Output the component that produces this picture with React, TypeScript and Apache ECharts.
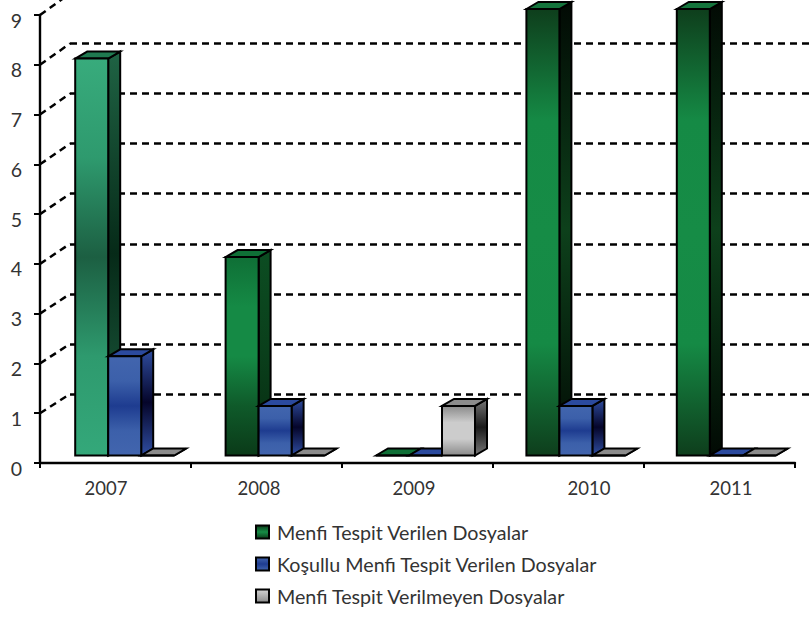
import React, { useEffect, useRef } from "react";
import * as echarts from "echarts";

const categories = ["2007", "2008", "2009", "2010", "2011"];
const menfi = [8, 4, 0, 9, 9];
const kosullu = [2, 1, 0, 1, 0];
const verilmeyen = [0, 0, 1, 0, 0];
const yTicks = [1, 2, 3, 4, 5, 6, 7, 8, 9];
const seriesNames = [
  "Menfi Tespit Verilen Dosyalar",
  "Koşullu Menfi Tespit Verilen Dosyalar",
  "Menfi Tespit Verilmeyen Dosyalar",
];
const labelPositions = [0.437, 1.45, 2.477, 3.636, 4.576];

const grad = (stops: string[]) =>
  new echarts.graphic.LinearGradient(
    0, 0, 0, 1,
    stops.map((color, i) => ({ offset: i / (stops.length - 1), color }))
  );

const greenFront = [
  ["#38AB7C", "#2E9A6E", "#1C5F42", "#2E9A6E", "#34A87A"],
  ["#0F6F36", "#158A45", "#158A45", "#0F5A2A", "#0A3A18"],
  ["#0F6F36", "#158A45", "#158A45", "#0F5A2A", "#0A3A18"],
  ["#0E3E1C", "#158A45", "#168C46", "#158A45", "#0E3E1C"],
  ["#0E3E1C", "#158A45", "#168C46", "#158A45", "#0E3E1C"],
];
const greenSide = [
  ["#1F6344", "#062A18", "#1F6344"],
  ["#0C4D22", "#0A3F1B", "#062A10"],
  ["#0C4D22", "#0A3F1B", "#062A10"],
  ["#020A04", "#0D401B", "#020A04"],
  ["#020A04", "#0D401B", "#020A04"],
];
const greenTop = ["#1F7A50", "#0F6F36", "#0F6F36", "#14743C", "#14743C"];
const blueFront = ["#4265AE", "#3C60AA", "#1E3C90", "#3C60AA", "#4265AE"];
const blueSide = ["#2F4DA0", "#05052A", "#2F4DA0"];
const grayFront = ["#8A8A8A", "#CCCCCC", "#CCCCCC", "#8A8A8A"];
const graySide = ["#777777", "#1A1A1A", "#777777"];

const BAR_W = 33;
const DX = 12;
const DY = 7;

function barRenderer(slot: number, front: (i: number) => any, side: (i: number) => any, top: (i: number) => string) {
  return (_p: any, api: any) => {
    const i = api.value(0);
    const v = api.value(1);
    const b = api.coord([i, 0]);
    const t = api.coord([i, v]);
    const x0 = b[0] + (slot - 1.5) * BAR_W;
    const x1 = x0 + BAR_W;
    const stroke = { stroke: "#000", lineWidth: 2 };
    return {
      type: "group",
      children: [
        {
          type: "polygon",
          shape: { points: [[x1, t[1]], [x1 + DX, t[1] - DY], [x1 + DX, b[1] - DY], [x1, b[1]]] },
          style: { fill: side(i), ...stroke },
        },
        {
          type: "polygon",
          shape: { points: [[x0, t[1]], [x0 + DX, t[1] - DY], [x1 + DX, t[1] - DY], [x1, t[1]]] },
          style: { fill: top(i), ...stroke },
        },
        {
          type: "rect",
          shape: { x: x0, y: t[1], width: BAR_W, height: b[1] - t[1] },
          style: { fill: front(i), ...stroke },
        },
      ],
    };
  };
}

const backWallY = (v: number) => 394 - (v - 1) * 50.07;

export default function App() {
  const ref = useRef<HTMLDivElement>(null);
  useEffect(() => {
    const chart = echarts.init(ref.current!, undefined, { renderer: "svg" });
    const font = "Lato";
    const legendColors = [
      grad(["#0A3A18", "#168C46", "#0A3A18"]),
      grad(["#4265AE", "#1E3C90", "#4265AE"]),
      grad(["#D2D2D2", "#8A8A8A"]),
    ];
    const build = (vals: number[]) => vals.map((v, i) => [i, v]);
    chart.setOption({
      animation: false,
      backgroundColor: "#fff",
      grid: [
        { left: 40, top: 15, width: 755, height: 448 },
        { left: 49.5, top: 9, width: 752, height: 446.5 },
        { left: 70, top: 43.5, right: 0, height: 350.5 },
      ],
      xAxis: [
        {
          gridIndex: 0,
          type: "value",
          min: 0,
          max: 5,
          interval: 1,
          splitLine: { show: false },
          axisLine: { show: true, lineStyle: { color: "#000", width: 2.4 } },
          axisTick: { show: true, customValues: [0, 1, 2, 3, 4, 5], length: 5, lineStyle: { color: "#000", width: 2 } },
          axisLabel: {
            customValues: labelPositions,
            formatter: (v: number) => categories[labelPositions.indexOf(v)] ?? "",
            fontFamily: font,
            fontSize: 18.5,
            color: "#333",
            margin: 15,
          },
        },
        { gridIndex: 1, type: "category", data: categories, show: false },
        { gridIndex: 2, type: "value", min: 0, max: 1, show: false },
      ],
      yAxis: [
        {
          gridIndex: 0,
          type: "value",
          min: 0,
          max: 9,
          interval: 1,
          splitLine: { show: false },
          axisLine: { show: true, lineStyle: { color: "#000", width: 2.4 } },
          axisTick: { show: true, length: 6, lineStyle: { color: "#000", width: 2 } },
          axisLabel: {
            fontFamily: font,
            fontSize: 19.5,
            color: "#333",
            margin: 18,
            verticalAlign: "top",
            lineHeight: 10,
          },
        },
        { gridIndex: 1, type: "value", min: 0, max: 9, show: false },
        {
          gridIndex: 2,
          type: "value",
          min: 1,
          max: 8,
          interval: 1,
          axisLine: { show: false },
          axisTick: { show: false },
          axisLabel: { show: false },
          splitLine: { show: true, lineStyle: { color: "#000", width: 2.5, type: [7, 5] } },
        },
      ],
      legend: {
        orient: "vertical",
        left: 250,
        top: 516,
        itemWidth: 13,
        itemHeight: 13,
        itemGap: 10,
        icon: "rect",
        data: seriesNames,
        textStyle: { fontFamily: font, fontSize: 19.7, color: "#333", padding: [0, 0, 0, 3], lineHeight: 22 },
      },
      series: [
        {
          type: "custom",
          name: "diag",
          xAxisIndex: 0,
          yAxisIndex: 0,
          clip: false,
          data: yTicks.map((v) => [0, v]),
          encode: { x: 0, y: 1 },
          renderItem: (_p: any, api: any) => {
            const v = api.value(1);
            const p = api.coord([0, v]);
            return {
              type: "line",
              shape: { x1: p[0], y1: p[1], x2: p[0] + 30, y2: backWallY(v) },
              style: { stroke: "#000", lineWidth: 2.5, lineDash: [7, 5], fill: "none" },
            };
          },
        },
        {
          type: "custom",
          name: seriesNames[0],
          xAxisIndex: 1,
          yAxisIndex: 1,
          clip: false,
          data: build(menfi),
          encode: { x: 0, y: 1 },
          itemStyle: { color: legendColors[0], borderColor: "#000", borderWidth: 2 },
          renderItem: barRenderer(0, (i) => grad(greenFront[i]), (i) => grad(greenSide[i]), (i) => greenTop[i]),
        },
        {
          type: "custom",
          name: seriesNames[1],
          xAxisIndex: 1,
          yAxisIndex: 1,
          clip: false,
          data: build(kosullu),
          encode: { x: 0, y: 1 },
          itemStyle: { color: legendColors[1], borderColor: "#000", borderWidth: 2 },
          renderItem: barRenderer(1, () => grad(blueFront), () => grad(blueSide), () => "#2B4A9E"),
        },
        {
          type: "custom",
          name: seriesNames[2],
          xAxisIndex: 1,
          yAxisIndex: 1,
          clip: false,
          data: build(verilmeyen),
          encode: { x: 0, y: 1 },
          itemStyle: { color: legendColors[2], borderColor: "#000", borderWidth: 2 },
          renderItem: barRenderer(2, () => grad(grayFront), () => grad(graySide), () => "#8C8C8C"),
        },
      ],
    });
    return () => chart.dispose();
  }, []);
  return <div ref={ref} style={{ position: "absolute", left: 0, top: 0, width: 809, height: 617 }} />;
}
